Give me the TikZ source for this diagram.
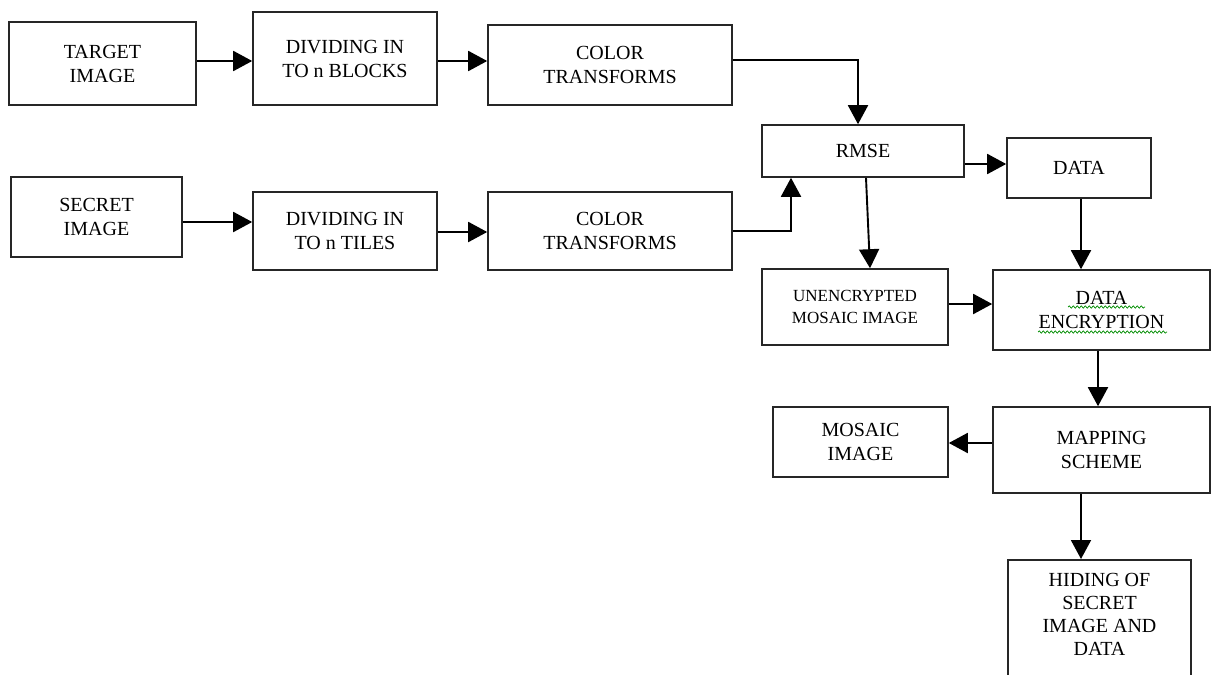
\documentclass[tikz,border=0pt]{standalone}
\usepackage{fontspec}
\setmainfont{Liberation Serif}
\usetikzlibrary{arrows.meta,decorations.pathmorphing}
\begin{document}
\begin{tikzpicture}[x=1pt,y=-1pt,
  box/.style={draw=black!85,line width=1.6pt,align=center,inner sep=0pt,
    font=\fontsize{20}{24}\selectfont},
  smallbox/.style={box,font=\fontsize{17}{22}\selectfont},
  arr/.style={line width=1.9pt,-{Triangle[length=19pt,width=20pt]}},
  squiggle/.style={draw=green!55!black,line width=0.7pt,
    decorate,decoration={snake,amplitude=1.2pt,segment length=4pt}}]
\useasboundingbox (0,0) rectangle (1211,675);
\newcommand\mkbox[7]{\node[#7,minimum width={(#4-#2)*1pt},minimum height={(#5-#3)*1pt}] (#1) at ({(#2+#4)/2},{(#3+#5)/2}) {#6};}
\mkbox{target}{9}{22}{196}{105}{TARGET\\IMAGE}{box}
\mkbox{divB}{253}{12}{437}{105}{DIVIDING IN\\TO n BLOCKS}{box}
\mkbox{colT}{488}{25}{732}{105}{COLOR\\TRANSFORMS}{box}
\mkbox{secret}{11}{177}{182}{257}{SECRET\\IMAGE}{box}
\mkbox{divT}{253}{192}{437}{270}{DIVIDING IN\\TO n TILES}{box}
\mkbox{colS}{488}{192}{732}{270}{COLOR\\TRANSFORMS}{box}
\mkbox{rmse}{762}{125}{964}{177}{RMSE}{box}
\mkbox{data}{1007}{138}{1151}{198}{DATA}{box}
\mkbox{unenc}{762}{269}{948}{345}{UNENCRYPTED\\MOSAIC IMAGE}{smallbox}
\mkbox{dataenc}{993}{270}{1210}{350}{DATA\\ENCRYPTION}{box}
\mkbox{mapping}{993}{407}{1210}{493}{MAPPING\\SCHEME}{box}
\mkbox{mosaic}{773}{407}{948}{477}{MOSAIC\\IMAGE}{box}
\node[box,minimum width=183pt,minimum height=140pt,anchor=north] (hiding) at (1099.5,559) {};
\node[font=\fontsize{20}{23}\selectfont,align=center,anchor=north] (hidtext) at (1099.5,570) {HIDING OF\\SECRET\\IMAGE AND\\DATA};
% helper coordinates
\coordinate (yA) at (0,61);
\coordinate (k1) at (858,60);
\coordinate (yB) at (0,222);
\coordinate (yC) at (0,232);
\coordinate (k2) at (791,231);
\coordinate (yD) at (0,164);
\coordinate (k3) at (866,0);
\coordinate (k4) at (870,0);
\coordinate (k5) at (1081,0);
\coordinate (yE) at (0,304);
\coordinate (k6) at (1098,0);
\coordinate (yF) at (0,443);
% connectors
\draw[arr] (target.east |- yA) -- (divB.west |- yA);
\draw[arr] (divB.east |- yA) -- (colT.west |- yA);
\draw[arr] (colT.east |- k1) -| (rmse.north -| k1);
\draw[arr] (secret.east |- yB) -- (divT.west |- yB);
\draw[arr] (divT.east |- yC) -- (colS.west |- yC);
\draw[arr] (colS.east |- k2) -| (rmse.south -| k2);
\draw[arr] (rmse.east |- yD) -- (data.west |- yD);
\draw[arr] (rmse.south -| k3) -- (unenc.north -| k4);
\draw[arr] (data.south -| k5) -- (dataenc.north -| k5);
\draw[arr] (unenc.east |- yE) -- (dataenc.west |- yE);
\draw[arr] (dataenc.south -| k6) -- (mapping.north -| k6);
\draw[arr] (mapping.west |- yF) -- (mosaic.east |- yF);
\draw[arr] (mapping.south -| k5) -- (hiding.north -| k5);
% spell-check underlines
\draw[squiggle] (1068,307) -- (1145,307);
\draw[squiggle] (1038,332) -- (1167,332);
\end{tikzpicture}
\end{document}
